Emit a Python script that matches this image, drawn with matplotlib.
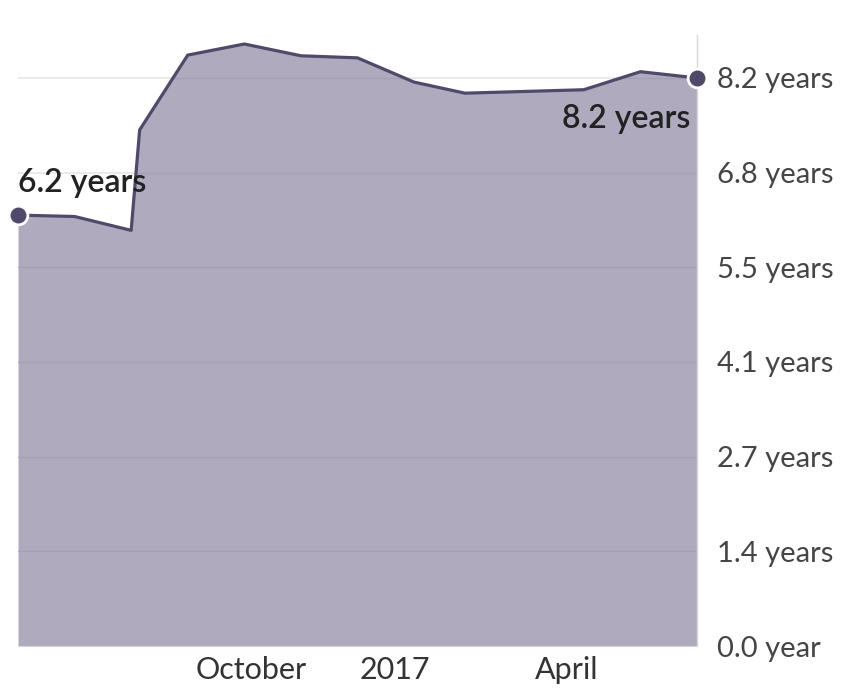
import matplotlib
matplotlib.use("Agg")
import matplotlib.pyplot as plt

# month index (0 = first observation) and value in years
months = [0, 1, 2, 2.15, 3, 4, 5, 6, 7, 7.9, 10, 11, 12]
values = [6.22, 6.20, 6.00, 7.45, 8.53, 8.69, 8.52, 8.49, 8.14, 7.98, 8.03, 8.29, 8.20]

tick_vals = [i * 8.2 / 6 for i in range(7)]
tick_labels = ["0.0 year", "1.4 years", "2.7 years", "4.1 years",
               "5.5 years", "6.8 years", "8.2 years"]

x_tick_pos = [4.12, 6.66, 9.7]
x_tick_labels = ["October", "2017", "April"]

start_label = "6.2 years"
end_label = "8.2 years"

plt.rcParams["font.family"] = ["Lato", "DejaVu Sans"]

fig = plt.figure(figsize=(8.51, 6.94), dpi=100)
ax = fig.add_axes([18 / 851, 48 / 694, (697 - 18) / 851, (646 - 35) / 694])

line_color = "#51496a"
fill_color = "#b0aabf"

area = ax.fill_between(months, values, 0, color=fill_color, lw=0, zorder=1)
ax.plot(months, values, color=line_color, lw=2.3, zorder=3, solid_joinstyle="round")
ax.plot([months[0], months[-1]], [values[0], values[-1]], "o", ms=13.5,
        color=line_color, mec="white", mew=2, zorder=4, clip_on=False)

# grid lines: light grey on white, darker inside the area
for v in tick_vals[1:]:
    ax.axhline(v, color="#e6e6e6", lw=1.2, zorder=0)
    inner = ax.axhline(v, color="#9c94ad", lw=1, alpha=0.5, zorder=2)
    inner.set_clip_path(area.get_paths()[0], ax.transData)

ax.set_xlim(months[0], months[-1])
ax.set_ylim(0, 8.82)

ax.yaxis.tick_right()
ax.set_yticks(tick_vals)
ax.set_yticklabels(tick_labels)
ax.set_xticks(x_tick_pos)
ax.set_xticklabels(x_tick_labels)
ax.tick_params(axis="y", length=0, pad=14.5, labelsize=21, labelcolor="#454545")
ax.tick_params(axis="x", length=0, pad=7, labelsize=22, labelcolor="#333333")

for s in ["left", "top", "bottom"]:
    ax.spines[s].set_visible(False)
ax.spines["right"].set_color("#d8d8d8")
ax.spines["right"].set_linewidth(1)

ax.annotate(start_label, (months[0], values[0]), xytext=(0, 17),
            textcoords="offset points", ha="left", va="baseline",
            fontsize=23, fontweight="semibold", color="#222222", zorder=5)
ax.annotate(end_label, (months[-1], values[-1]), xytext=(-5, -36),
            textcoords="offset points", ha="right", va="baseline",
            fontsize=23, fontweight="semibold", color="#222222", zorder=5)

fig.savefig("out.png", dpi=100)
